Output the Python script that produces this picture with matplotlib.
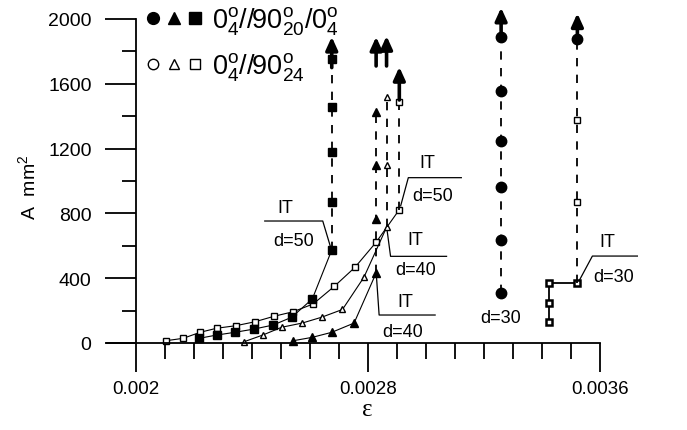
import matplotlib
matplotlib.use("Agg")
import matplotlib.pyplot as plt
from matplotlib.lines import Line2D
from matplotlib.legend_handler import HandlerTuple
from matplotlib.ticker import MultipleLocator, FixedLocator, FixedFormatter
import numpy as np

plt.rcParams["font.family"] = ["Liberation Sans", "DejaVu Sans"]
plt.rcParams["mathtext.fontset"] = "custom"
plt.rcParams["mathtext.rm"] = "Liberation Sans"
plt.rcParams["mathtext.default"] = "regular"
plt.rcParams["lines.scale_dashes"] = False

# 0/90_20/0 laminate (filled markers)
eps_f50 = [0.002218, 0.002278, 0.002341, 0.002407, 0.002473, 0.002537, 0.002608, 0.002675]
area_f50 = [29, 49, 66, 86, 111, 159, 272, 574]
area_f50_post = [868, 1177, 1455, 1753]

eps_f40 = [0.002542, 0.002608, 0.002675, 0.002752, 0.002828]
area_f40 = [14, 35, 66, 123, 432]
area_f40_post = [765, 1099, 1426]

eps_f30 = 0.003259
area_f30_post = [309, 638, 961, 1249, 1557, 1887]

# 0/90_24 laminate (open markers)
eps_o50 = [0.002103, 0.002163, 0.002221, 0.002278, 0.002345, 0.00241, 0.002476,
           0.002542, 0.002611, 0.002684, 0.002755, 0.002828, 0.002908]
area_o50 = [14, 29, 66, 91, 107, 131, 165, 193, 241, 350, 467, 622, 823]
area_o50_post = [1486]

eps_o40 = [0.002373, 0.002437, 0.002502, 0.002573, 0.00264, 0.002712, 0.002786, 0.002864]
area_o40 = [8, 49, 97, 123, 159, 207, 406, 714]
area_o40_post = [1099, 1517]

eps_o30 = [0.003425, 0.003425, 0.003425, 0.003522]
area_o30 = [131, 247, 370, 370]
area_o30_post = [872, 1378]
area_o30_top = 1877

# upward arrows (strain, start, end)
arrow_eps = [0.002675, 0.002828, 0.002864, 0.002908, 0.003259, 0.003522]
arrow_lo = [1700, 1710, 1710, 1500, 1900, 1890]
arrow_hi = [1890, 1890, 1895, 1704, 2070, 2035]

fig = plt.figure(figsize=(6.87, 4.31), dpi=100)
W, H = 687, 431
ax = fig.add_axes([107 / W, 87 / H, (600 - 107) / W, (344 - 20) / H])
ax.set_xlim(0.0019, 0.0036)
ax.set_ylim(0, 2000)

for s in ["top", "right"]:
    ax.spines[s].set_visible(False)
ax.spines["left"].set_position(("data", 0.002))
ax.spines["left"].set_linewidth(1.3)
ax.spines["bottom"].set_linewidth(1.3)

ax.xaxis.set_major_locator(FixedLocator([0.002, 0.0028, 0.0036]))
ax.xaxis.set_major_formatter(FixedFormatter(["0.002", "0.0028", "0.0036"]))
ax.xaxis.set_minor_locator(FixedLocator(np.arange(21, 36) / 10000))
ax.yaxis.set_major_locator(MultipleLocator(400))
ax.yaxis.set_minor_locator(MultipleLocator(200))
ax.tick_params(axis="x", which="major", length=21, width=1.3, labelsize=13.5, pad=6)
ax.tick_params(axis="x", which="minor", length=11.5, width=1.3)
ax.tick_params(axis="y", which="major", length=22, width=1.3, labelsize=14, pad=10)
ax.tick_params(axis="y", which="minor", length=10, width=1.3)

fig.text(28 / W, 1 - 187 / H, r"A  mm$^2$", rotation=90, fontsize=14,
         ha="center", va="center")
fig.text(367 / W, 1 - 410 / H, "ε", fontsize=18, family="Liberation Serif",
         ha="center", va="center")

curve = dict(color="k", lw=0.8)
dash = dict(color="k", lw=1.3, dashes=(6, 6))
filled = dict(color="k", ls="none", mec="k", mfc="k", clip_on=False)
hollow = dict(color="k", ls="none", mec="k", mfc="white", mew=1.0, clip_on=False)

# curves up to IT
ax.plot(eps_o50, area_o50, **curve)
ax.plot(eps_o50, area_o50, marker="s", ms=5, **hollow)
ax.plot(eps_o40, area_o40, **curve)
ax.plot(eps_o40, area_o40, marker="^", ms=5, **hollow)
ax.plot(eps_f50, area_f50, **curve)
ax.plot(eps_f50, area_f50, marker="s", ms=6, **filled)
ax.plot(eps_f40, area_f40, **curve)
ax.plot(eps_f40, area_f40, marker="^", ms=5.5, **filled)
ax.plot(eps_o30, area_o30, color="k", lw=1.3)
ax.plot(eps_o30, area_o30, marker="s", ms=5, **dict(hollow, mew=1.8))

# dashed growth after IT
def post(e_last, a_last, a_post, **mk):
    ys = [a_last] + list(a_post)
    ax.plot([e_last] * len(ys), ys, **dash)
    ax.plot([e_last] * len(a_post), a_post, **mk)

post(eps_f50[-1], area_f50[-1], area_f50_post, marker="s", ms=6, **filled)
post(eps_f40[-1], area_f40[-1], area_f40_post, marker="^", ms=5.5, **filled)
post(eps_o50[-1], area_o50[-1], area_o50_post, marker="s", ms=5, **hollow)
post(eps_o40[-1], area_o40[-1], area_o40_post, marker="^", ms=5, **hollow)
post(eps_f30, area_f30_post[0], area_f30_post, marker="o", ms=7.5, **filled)
post(eps_o30[-1], area_o30[-1], area_o30_post + [area_o30_top], marker="s", ms=5, **hollow)
ax.plot([eps_o30[-1]], [area_o30_top], marker="o", ms=7.5, **filled)

for e, lo, hi in zip(arrow_eps, arrow_lo, arrow_hi):
    ax.annotate("", xy=(e, hi), xytext=(e, lo), annotation_clip=False,
                arrowprops=dict(arrowstyle="-|>,head_length=0.55,head_width=0.25",
                                lw=2.6, color="k", mutation_scale=14,
                                shrinkA=0, shrinkB=0))

# IT callouts, offsets in pixels from the IT point (y upwards)
def px(pt, dx, dy):
    d = ax.transData.transform(pt) + np.array([dx, dy])
    return ax.transData.inverted().transform(d)

def callout(pt, start, end, it_pos, d_pos, dtext):
    a = px(pt, *start)
    b = px(pt, *end)
    tip = px(pt, start[0] * 0.15, start[1] * 0.12)
    ax.plot([tip[0], a[0], b[0]], [tip[1], a[1], b[1]], color="k", lw=0.9,
            clip_on=False)
    ax.text(*px(pt, *it_pos), "IT", fontsize=13, ha="center", va="center")
    ax.text(*px(pt, *d_pos), dtext, fontsize=13, ha="center", va="center")

callout((eps_f50[-1], area_f50[-1]), (-9, 29), (-67, 29), (-46, 43), (-38, 10), "d=50")
callout((eps_o50[-1], area_o50[-1]), (9, 32), (62, 32), (28, 47), (33, 14), "d=50")
callout((eps_o40[-1], area_o40[-1]), (4, -29), (60, -29), (29, -12), (29, -42), "d=40")
callout((eps_f40[-1], area_f40[-1]), (3, -42), (59, -42), (29, -28), (27, -58), "d=40")
callout((eps_o30[-1], area_o30[-1]), (15, 27), (60, 27), (30, 42), (36, 7), "d=30")
ax.text(*px((eps_f30, area_f30_post[0]), 0, -25), "d=30", fontsize=13,
        ha="center", va="center")

# legend
def mk(m, fill):
    return Line2D([], [], ls="none", marker=m, ms=8.5 if fill else 7.5, mec="k",
                  mfc="k" if fill else "white", mew=1.0)

h_f = (mk("o", True), mk("^", True), mk("s", True))
h_o = (mk("o", False), mk("^", False), mk("s", False))
ax.legend([h_f, h_o],
          [r"$0^o_4//90^o_{20}/0^o_4$", r"$0^o_4//90^o_{24}$"],
          handler_map={tuple: HandlerTuple(ndivide=None, pad=0.15)},
          loc="upper left", bbox_to_anchor=(144 / W, 1 - 5 / H),
          bbox_transform=fig.transFigure, frameon=False, fontsize=19.5,
          handlelength=2.2, handletextpad=0.3, labelspacing=0.5,
          borderpad=0, borderaxespad=0)

plt.savefig("out.png", dpi=100)
